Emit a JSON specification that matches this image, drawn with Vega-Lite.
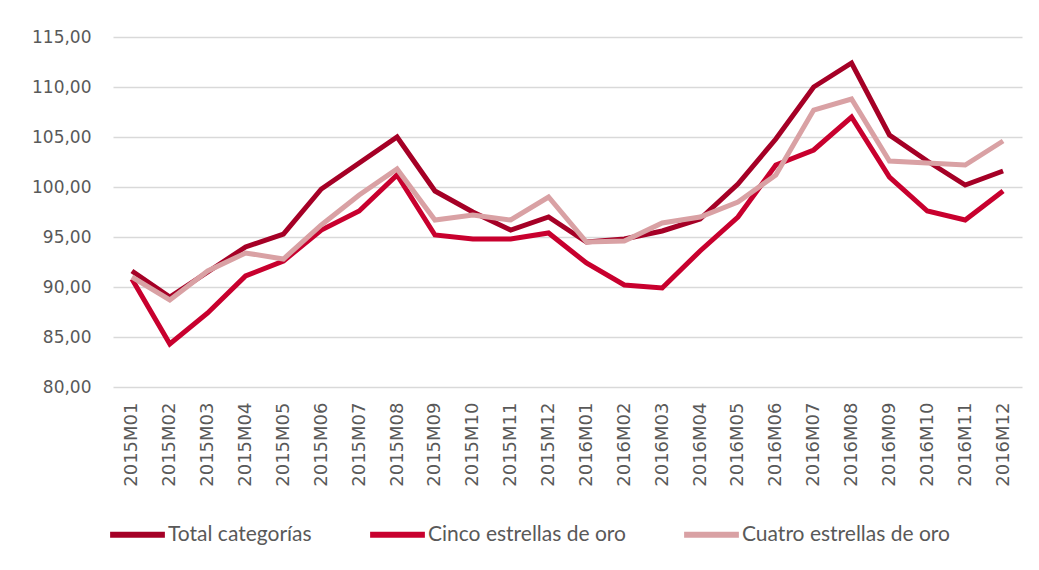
{
  "$schema": "https://vega.github.io/schema/vega-lite/v6.json",
  "width": 909,
  "height": 350,
  "autosize": "none",
  "padding": {"left": 113, "top": 37, "right": 17, "bottom": 183},
  "background": "white",
  "data": {
    "values": [
      {"mes": "2015M01", "serie": "Total categorías", "valor": 91.6},
      {"mes": "2015M02", "serie": "Total categorías", "valor": 89.0},
      {"mes": "2015M03", "serie": "Total categorías", "valor": 91.5},
      {"mes": "2015M04", "serie": "Total categorías", "valor": 94.0},
      {"mes": "2015M05", "serie": "Total categorías", "valor": 95.3},
      {"mes": "2015M06", "serie": "Total categorías", "valor": 99.8},
      {"mes": "2015M07", "serie": "Total categorías", "valor": 102.4},
      {"mes": "2015M08", "serie": "Total categorías", "valor": 105.0},
      {"mes": "2015M09", "serie": "Total categorías", "valor": 99.6},
      {"mes": "2015M10", "serie": "Total categorías", "valor": 97.5},
      {"mes": "2015M11", "serie": "Total categorías", "valor": 95.7},
      {"mes": "2015M12", "serie": "Total categorías", "valor": 97.0},
      {"mes": "2016M01", "serie": "Total categorías", "valor": 94.5},
      {"mes": "2016M02", "serie": "Total categorías", "valor": 94.8},
      {"mes": "2016M03", "serie": "Total categorías", "valor": 95.6},
      {"mes": "2016M04", "serie": "Total categorías", "valor": 96.8},
      {"mes": "2016M05", "serie": "Total categorías", "valor": 100.3},
      {"mes": "2016M06", "serie": "Total categorías", "valor": 104.8},
      {"mes": "2016M07", "serie": "Total categorías", "valor": 110.0},
      {"mes": "2016M08", "serie": "Total categorías", "valor": 112.4},
      {"mes": "2016M09", "serie": "Total categorías", "valor": 105.2},
      {"mes": "2016M10", "serie": "Total categorías", "valor": 102.6},
      {"mes": "2016M11", "serie": "Total categorías", "valor": 100.2},
      {"mes": "2016M12", "serie": "Total categorías", "valor": 101.6},
      {"mes": "2015M01", "serie": "Cinco estrellas de oro", "valor": 90.8},
      {"mes": "2015M02", "serie": "Cinco estrellas de oro", "valor": 84.3},
      {"mes": "2015M03", "serie": "Cinco estrellas de oro", "valor": 87.4},
      {"mes": "2015M04", "serie": "Cinco estrellas de oro", "valor": 91.1},
      {"mes": "2015M05", "serie": "Cinco estrellas de oro", "valor": 92.6},
      {"mes": "2015M06", "serie": "Cinco estrellas de oro", "valor": 95.7},
      {"mes": "2015M07", "serie": "Cinco estrellas de oro", "valor": 97.6},
      {"mes": "2015M08", "serie": "Cinco estrellas de oro", "valor": 101.2},
      {"mes": "2015M09", "serie": "Cinco estrellas de oro", "valor": 95.2},
      {"mes": "2015M10", "serie": "Cinco estrellas de oro", "valor": 94.8},
      {"mes": "2015M11", "serie": "Cinco estrellas de oro", "valor": 94.8},
      {"mes": "2015M12", "serie": "Cinco estrellas de oro", "valor": 95.4},
      {"mes": "2016M01", "serie": "Cinco estrellas de oro", "valor": 92.4},
      {"mes": "2016M02", "serie": "Cinco estrellas de oro", "valor": 90.2},
      {"mes": "2016M03", "serie": "Cinco estrellas de oro", "valor": 89.9},
      {"mes": "2016M04", "serie": "Cinco estrellas de oro", "valor": 93.6},
      {"mes": "2016M05", "serie": "Cinco estrellas de oro", "valor": 97.0},
      {"mes": "2016M06", "serie": "Cinco estrellas de oro", "valor": 102.2},
      {"mes": "2016M07", "serie": "Cinco estrellas de oro", "valor": 103.7},
      {"mes": "2016M08", "serie": "Cinco estrellas de oro", "valor": 107.0},
      {"mes": "2016M09", "serie": "Cinco estrellas de oro", "valor": 101.0},
      {"mes": "2016M10", "serie": "Cinco estrellas de oro", "valor": 97.6},
      {"mes": "2016M11", "serie": "Cinco estrellas de oro", "valor": 96.7},
      {"mes": "2016M12", "serie": "Cinco estrellas de oro", "valor": 99.6},
      {"mes": "2015M01", "serie": "Cuatro estrellas de oro", "valor": 91.0},
      {"mes": "2015M02", "serie": "Cuatro estrellas de oro", "valor": 88.7},
      {"mes": "2015M03", "serie": "Cuatro estrellas de oro", "valor": 91.6},
      {"mes": "2015M04", "serie": "Cuatro estrellas de oro", "valor": 93.4},
      {"mes": "2015M05", "serie": "Cuatro estrellas de oro", "valor": 92.8},
      {"mes": "2015M06", "serie": "Cuatro estrellas de oro", "valor": 96.2},
      {"mes": "2015M07", "serie": "Cuatro estrellas de oro", "valor": 99.2},
      {"mes": "2015M08", "serie": "Cuatro estrellas de oro", "valor": 101.8},
      {"mes": "2015M09", "serie": "Cuatro estrellas de oro", "valor": 96.7},
      {"mes": "2015M10", "serie": "Cuatro estrellas de oro", "valor": 97.2},
      {"mes": "2015M11", "serie": "Cuatro estrellas de oro", "valor": 96.7},
      {"mes": "2015M12", "serie": "Cuatro estrellas de oro", "valor": 99.0},
      {"mes": "2016M01", "serie": "Cuatro estrellas de oro", "valor": 94.5},
      {"mes": "2016M02", "serie": "Cuatro estrellas de oro", "valor": 94.6},
      {"mes": "2016M03", "serie": "Cuatro estrellas de oro", "valor": 96.4},
      {"mes": "2016M04", "serie": "Cuatro estrellas de oro", "valor": 97.0},
      {"mes": "2016M05", "serie": "Cuatro estrellas de oro", "valor": 98.5},
      {"mes": "2016M06", "serie": "Cuatro estrellas de oro", "valor": 101.2},
      {"mes": "2016M07", "serie": "Cuatro estrellas de oro", "valor": 107.7},
      {"mes": "2016M08", "serie": "Cuatro estrellas de oro", "valor": 108.8},
      {"mes": "2016M09", "serie": "Cuatro estrellas de oro", "valor": 102.6},
      {"mes": "2016M10", "serie": "Cuatro estrellas de oro", "valor": 102.4},
      {"mes": "2016M11", "serie": "Cuatro estrellas de oro", "valor": 102.2},
      {"mes": "2016M12", "serie": "Cuatro estrellas de oro", "valor": 104.6}
    ]
  },
  "mark": {"type": "line", "strokeWidth": 5, "strokeJoin": "miter", "strokeCap": "butt"},
  "encoding": {
    "x": {
      "field": "mes", "type": "ordinal", "sort": null,
      "scale": {"type": "point", "padding": 0.5},
      "axis": {
        "title": null, "labelAngle": -90, "labelFont": "DejaVu Sans", "labelFontSize": 18,
        "labelColor": "#595959", "labelPadding": 15, "ticks": false, "domain": false, "grid": false
      }
    },
    "y": {
      "field": "valor", "type": "quantitative",
      "scale": {"domain": [80, 115], "nice": false, "zero": false},
      "axis": {
        "title": null, "values": [80, 85, 90, 95, 100, 105, 110, 115],
        "labelExpr": "replace(format(datum.value, '.2f'), '.', ',')",
        "labelFont": "DejaVu Sans", "labelFontSize": 17, "labelColor": "#595959",
        "labelPadding": 22, "ticks": false, "domain": false,
        "grid": true, "gridColor": "#D9D9D9", "gridWidth": 1.5
      }
    },
    "color": {
      "field": "serie", "type": "nominal",
      "scale": {
        "domain": ["Total categorías", "Cinco estrellas de oro", "Cuatro estrellas de oro"],
        "range": ["#A50026", "#C8002E", "#D9A1A4"]
      },
      "legend": {
        "title": null, "orient": "none", "direction": "horizontal",
        "legendX": -6, "legendY": 467,
        "symbolType": "stroke", "symbolSize": 3000, "symbolStrokeWidth": 6,
        "labelFont": "Lato", "labelFontSize": 21, "labelColor": "#595959",
        "labelOffset": 0, "columnPadding": 46, "labelLimit": 400
      }
    }
  },
  "config": {"view": {"stroke": null}}
}
